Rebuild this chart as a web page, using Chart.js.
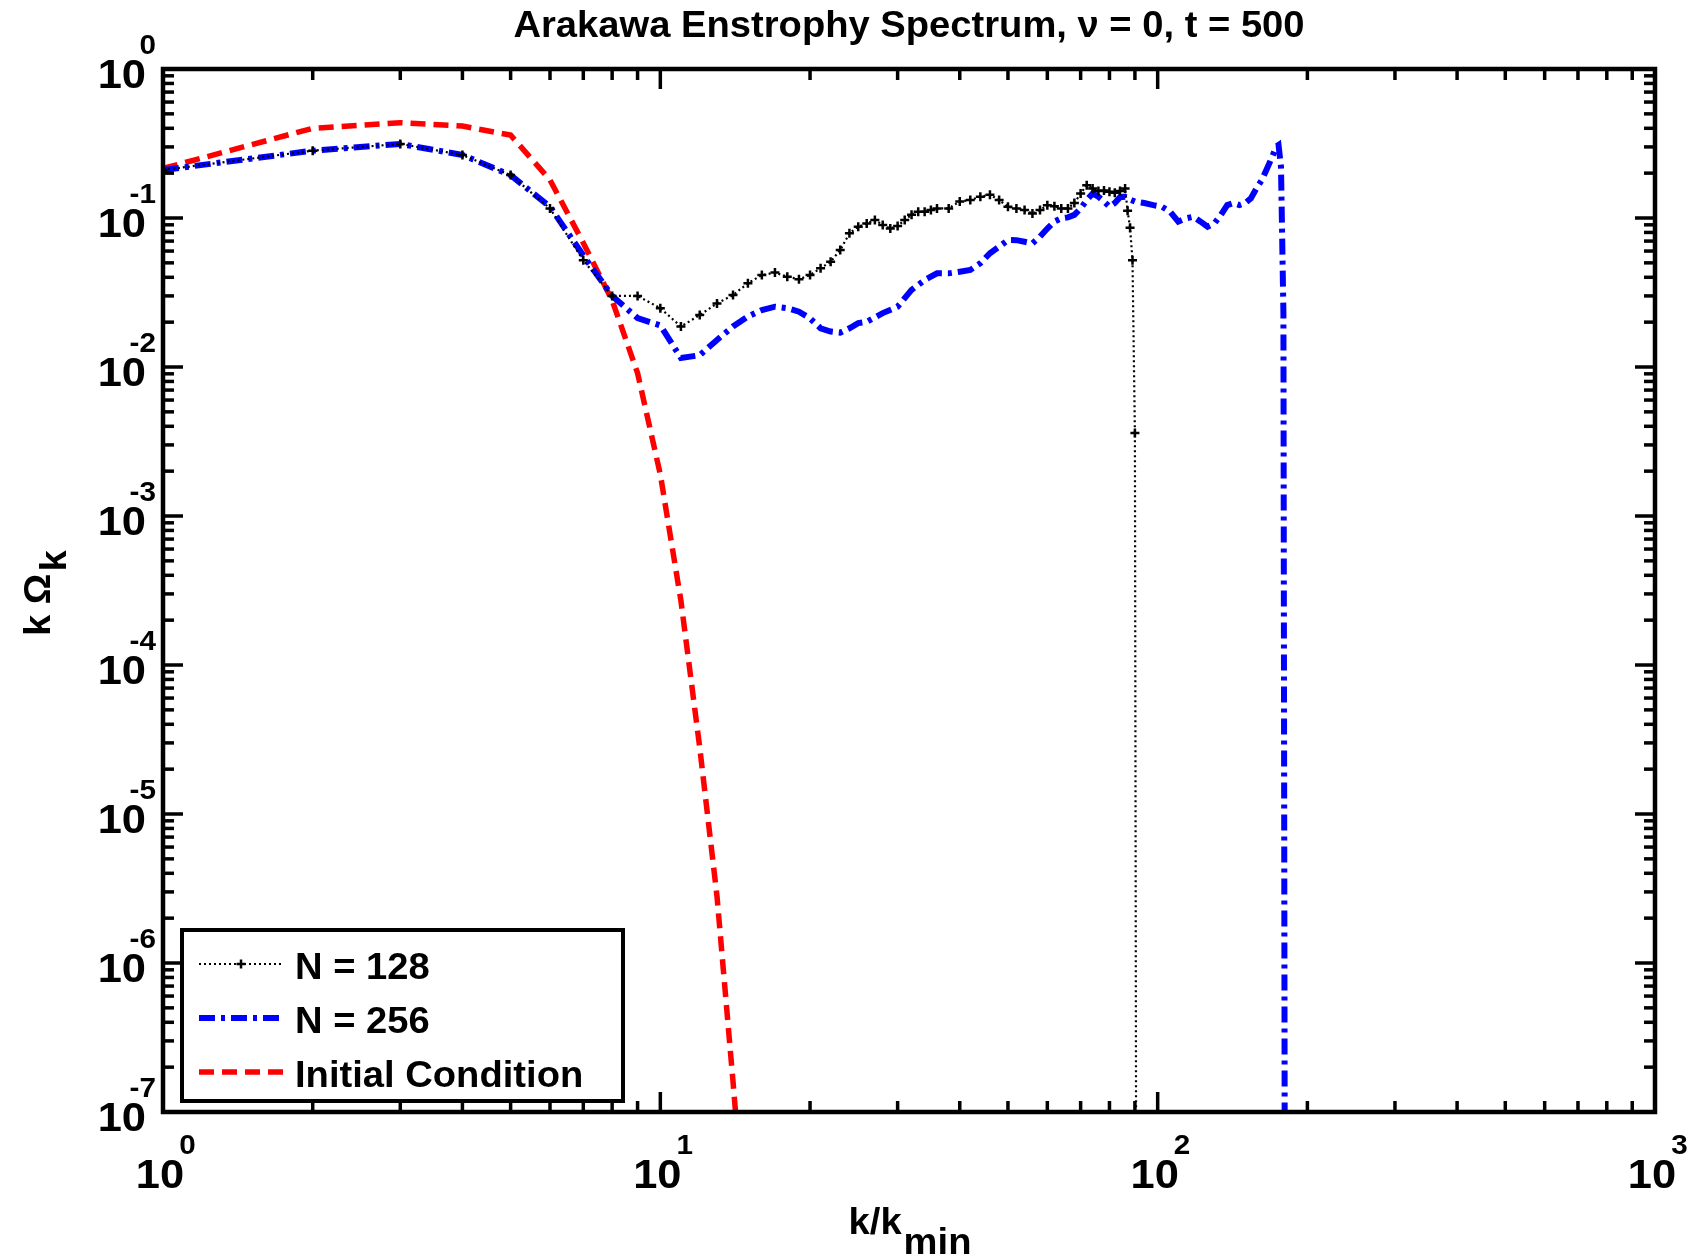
<!DOCTYPE html>
<html>
<head>
<meta charset="utf-8">
<title>Arakawa Enstrophy Spectrum</title>
<script src="https://cdn.jsdelivr.net/npm/chart.js@4.4.1/dist/chart.umd.min.js"></script>
<style>
    html, body { margin: 0; padding: 0; background: #ffffff; }
    #wrap { width: 1688px; height: 1259px; }
</style>
</head>
<body>
<div id="wrap"><canvas id="spectrumChart"></canvas></div>
<script>
// values
const kInit = [1, 2, 3, 4, 5, 6, 7, 8, 9, 10, 11, 12, 13, 14, 15, 16];
const omegaInit = [0.215, 0.40, 0.436, 0.414, 0.36, 0.18, 0.068, 0.028, 0.0091, 0.0019,
    2.7e-4, 2.8e-5, 2.8e-6, 1.6e-7, 1e-8, 4e-10];

const k128 = [1, 2, 3, 4, 5, 6, 7, 8, 9, 10, 11, 12, 13, 14, 15, 16, 17, 18, 19, 20,
    21, 22, 23, 24, 25, 26, 27, 28, 29, 30, 31, 32, 33, 34, 35, 36, 38, 40, 42, 44,
    46, 48, 50, 52, 54, 56, 58, 60, 62, 64, 66, 68, 70, 72, 74, 76, 78, 80, 82, 84,
    86, 87, 88, 89, 90, 91];
const omega128 = [0.21, 0.283, 0.314, 0.265, 0.194, 0.116, 0.052, 0.030, 0.030, 0.0248,
    0.0187, 0.0223, 0.0267, 0.0304, 0.0365, 0.0414, 0.043, 0.0404, 0.0388, 0.0414,
    0.046, 0.0509, 0.061, 0.0789, 0.0874, 0.092, 0.097, 0.0898, 0.085, 0.0884,
    0.097, 0.105, 0.110, 0.110, 0.113, 0.116, 0.116, 0.129, 0.132, 0.139,
    0.143, 0.132, 0.119, 0.116, 0.113, 0.107, 0.113, 0.122, 0.120, 0.116,
    0.116, 0.126, 0.146, 0.166, 0.158, 0.152, 0.153, 0.150, 0.148, 0.152,
    0.158, 0.112, 0.086, 0.052, 0.0036, 1e-12];

const k256 = [1, 2, 3, 4, 5, 6, 7, 8, 9, 10, 11, 12, 13, 14, 15, 16, 17, 18, 19, 20,
    21, 22, 23, 24, 25, 26, 28, 30, 32, 34, 36, 38, 40, 42, 44, 46, 48, 50, 52, 54,
    56, 58, 60, 62, 64, 66, 68, 70, 72, 74, 76, 78, 80, 82, 84, 86, 88, 90, 94, 98,
    102, 106, 110, 114, 118, 122, 126, 130, 134, 138, 142, 146, 150, 154, 158, 162,
    166, 170, 173, 175, 177, 179, 181];
const omega256 = [0.21, 0.283, 0.314, 0.265, 0.194, 0.119, 0.056, 0.030, 0.0213, 0.019,
    0.0115, 0.012, 0.0152, 0.0187, 0.0218, 0.0241, 0.0254, 0.0248, 0.0235, 0.0212,
    0.0182, 0.0173, 0.017, 0.0182, 0.0197, 0.0201, 0.023, 0.0254, 0.0329, 0.0384,
    0.0425, 0.0425, 0.0436, 0.0448, 0.0497, 0.058, 0.0642, 0.0711, 0.071, 0.0693,
    0.0676, 0.075, 0.085, 0.0945, 0.0995, 0.101, 0.105, 0.116, 0.132, 0.146,
    0.139, 0.129, 0.119, 0.126, 0.138, 0.139, 0.133, 0.129, 0.126, 0.122,
    0.119, 0.110, 0.0945, 0.0995, 0.102, 0.0945, 0.0874, 0.092, 0.105, 0.122,
    0.126, 0.122, 0.126, 0.1356, 0.158, 0.18,
    0.216, 0.258, 0.301, 0.309, 0.221, 0.023, 1e-12];

const xDecades = [1, 10, 100, 1000];
const xExponents = ["0", "1", "2", "3"];
const yDecades = [1e-7, 1e-6, 1e-5, 1e-4, 1e-3, 1e-2, 1e-1, 1];
const yExponents = ["-7", "-6", "-5", "-4", "-3", "-2", "-1", "0"];

const seriesLabels = ["N = 128", "N = 256", "Initial Condition"];
const chartTitle = "Arakawa Enstrophy Spectrum, \u03bd = 0, t = 500";

const FONT = '"Liberation Sans", Arial, Helvetica, sans-serif';
const STRETCH = 1.06;

function pairs(xs, ys) {
    return xs.map(function (x, i) { return { x: x, y: ys[i] }; });
}

// bold, slightly widened text like the IDL hardware font
function drawText(ctx, str, x, y, size, align) {
    ctx.save();
    ctx.font = "bold " + size + "px " + FONT;
    ctx.textBaseline = "middle";
    ctx.textAlign = "left";
    const w = ctx.measureText(str).width * STRETCH;
    let x0 = x;
    if (align === "center") x0 = x - w / 2;
    if (align === "right") x0 = x - w;
    ctx.translate(x0, y);
    ctx.scale(STRETCH, 1);
    ctx.fillStyle = "#000";
    ctx.fillText(str, 0, 0);
    ctx.restore();
    return w;
}

function textWidth(ctx, str, size) {
    ctx.save();
    ctx.font = "bold " + size + "px " + FONT;
    const w = ctx.measureText(str).width * STRETCH;
    ctx.restore();
    return w;
}

function seg(ctx, x1, y1, x2, y2) {
    ctx.beginPath();
    ctx.moveTo(x1, y1);
    ctx.lineTo(x2, y2);
    ctx.stroke();
}

const idlFrame = {
    id: "idlFrame",
    afterDatasetsDraw(chart) {
        const ctx = chart.ctx;
        const a = chart.chartArea;
        const xs = chart.scales.x;
        const ys = chart.scales.y;

        ctx.save();
        ctx.strokeStyle = "#000";
        ctx.setLineDash([]);

        // inward ticks on all four sides
        ctx.lineWidth = 3.5;
        xDecades.forEach(function (d) {
            for (let m = 1; m <= 9; m++) {
                const v = d * m;
                if (v > xs.max) break;
                const px = xs.getPixelForValue(v);
                const len = m === 1 ? 20 : 11;
                seg(ctx, px, a.bottom, px, a.bottom - len);
                seg(ctx, px, a.top, px, a.top + len);
            }
        });
        yDecades.forEach(function (d) {
            for (let m = 1; m <= 9; m++) {
                const v = d * m;
                if (v > ys.max) break;
                const py = ys.getPixelForValue(v);
                const len = m === 1 ? 20 : 11;
                seg(ctx, a.left, py, a.left + len, py);
                seg(ctx, a.right, py, a.right - len, py);
            }
        });

        // box
        ctx.lineWidth = 4.5;
        ctx.strokeRect(a.left, a.top, a.right - a.left, a.bottom - a.top);

        // tick labels: 10 with raised exponent
        xDecades.forEach(function (d, i) {
            const px = xs.getPixelForValue(d) - 3;
            const w10 = drawText(ctx, "10", px, 1177, 41, "center");
            drawText(ctx, xExponents[i], px + w10 / 2 - 5, 1146, 28, "left");
        });
        yDecades.forEach(function (d, i) {
            const py = ys.getPixelForValue(d);
            drawText(ctx, "10", 146, py + 8, 41, "right");
            drawText(ctx, yExponents[i], 156, py - 23, 28, "right");
        });

        // title
        drawText(ctx, chartTitle, (a.left + a.right) / 2, 27, 36, "center");

        // x axis title k/k_min
        const wk = textWidth(ctx, "k/k", 36);
        const wm = textWidth(ctx, "min", 36);
        const xt = (a.left + a.right) / 2 - (wk + wm) / 2;
        drawText(ctx, "k/k", xt, 1224, 36, "left");
        drawText(ctx, "min", xt + wk + 2, 1244, 36, "left");

        // y axis title k Omega_k, rotated
        ctx.save();
        ctx.translate(40, 636);
        ctx.rotate(-Math.PI / 2);
        const wo = drawText(ctx, "k \u03a9", 0, 0, 36, "left");
        drawText(ctx, "k", wo + 2, 16, 36, "left");
        ctx.restore();

        // legend
        const box = { left: 182, top: 930, right: 623, bottom: 1101 };
        ctx.lineWidth = 4;
        ctx.strokeRect(box.left, box.top, box.right - box.left, box.bottom - box.top);
        const rowY = [964, 1018, 1072];
        chart.data.datasets.forEach(function (ds, i) {
            const y = rowY[i];
            ctx.save();
            ctx.strokeStyle = ds.borderColor;
            ctx.lineWidth = ds.borderWidth;
            ctx.setLineDash(ds.borderDash || []);
            seg(ctx, 199, y, 283, y);
            if (ds.pointRadius > 0) {
                ctx.setLineDash([]);
                ctx.lineWidth = ds.pointBorderWidth;
                const cx = 241, r = ds.pointRadius;
                seg(ctx, cx - r, y, cx + r, y);
                seg(ctx, cx, y - r, cx, y + r);
            }
            ctx.restore();
            drawText(ctx, ds.label, 295, y + 5, 36, "left");
        });

        ctx.restore();
    }
};

const ctx = document.getElementById("spectrumChart");

new Chart(ctx, {
    type: "line",
    data: {
        datasets: [
            {
                label: seriesLabels[0],
                data: pairs(k128, omega128),
                borderColor: "#000000",
                borderWidth: 2.2,
                borderDash: [2, 3],
                pointStyle: "cross",
                pointRadius: 4.5,
                pointBorderWidth: 2.5,
                pointBorderColor: "#000000",
                tension: 0,
                clip: 0
            },
            {
                label: seriesLabels[1],
                data: pairs(k256, omega256),
                borderColor: "#0000ff",
                borderWidth: 6,
                borderDash: [16, 6, 4, 6],
                pointRadius: 0,
                tension: 0,
                clip: 0
            },
            {
                label: seriesLabels[2],
                data: pairs(kInit, omegaInit),
                borderColor: "#ff0000",
                borderWidth: 5.5,
                borderDash: [15, 8],
                pointRadius: 0,
                tension: 0,
                clip: 0
            }
        ]
    },
    options: {
        responsive: true,
        maintainAspectRatio: false,
        animation: false,
        events: [],
        layout: {
            padding: { left: 163, right: 33, top: 69, bottom: 147 }
        },
        scales: {
            x: { type: "logarithmic", min: 1, max: 1000, display: false },
            y: { type: "logarithmic", min: 1e-7, max: 1, display: false }
        },
        plugins: {
            legend: { display: false },
            title: { display: false },
            tooltip: { enabled: false }
        }
    },
    plugins: [idlFrame]
});
</script>
</body>
</html>
